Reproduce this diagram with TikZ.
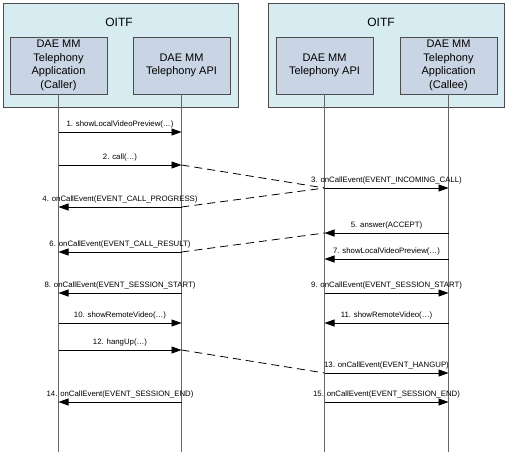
\documentclass[tikz,border=0pt]{standalone}
\usepackage{fontspec}
\setmainfont{Liberation Sans}
\usetikzlibrary{arrows.meta,positioning}
\definecolor{oitfFill}{RGB}{214,236,240}
\definecolor{compFill}{RGB}{201,213,229}
\tikzset{
oitfBox/.style={draw=black!70, fill=oitfFill, line width=0.8pt, inner sep=0pt},
compBox/.style={draw=black!70, fill=compFill, line width=0.8pt, inner sep=0pt,
    minimum width=97pt, minimum height=57pt, align=center,
    font=\fontsize{11}{13.5}\selectfont},
lifeLine/.style={draw=black!60, line width=1.5pt},
msgArrow/.style={-{Triangle[length=10pt,width=7pt]}, line width=0.8pt},
netLink/.style={line width=0.8pt, dash pattern=on 8pt off 5pt},
msgLabel/.style={midway, above=3pt, inner sep=0pt, font=\fontsize{7.8}{8}\selectfont}
}

\begin{document}
\begin{tikzpicture}[x=1pt,y=-1pt]
    \useasboundingbox (0,0) rectangle (507,456);
    % the two terminals
    \node[oitfBox, minimum width=235pt, minimum height=104pt] (oitfL) at (120.5,55) {};
    \node[oitfBox, minimum width=236pt, minimum height=104pt] (oitfR) at (386,55) {};
    \node[font=\fontsize{12}{14}\selectfont] (titleL) at (119,22) {OITF};
    \node[font=\fontsize{12}{14}\selectfont] (titleR) at (381,22) {OITF};
    \node[compBox] (caller) at (58.5,65.5) {DAE MM\\Telephony\\Application\\(Caller)};
    \node[compBox] (apiL) at (181.5,65.5) {DAE MM\\Telephony API};
    \node[compBox] (apiR) at (324.5,65.5) {DAE MM\\Telephony API};
    \node[compBox] (callee) at (448.5,65.5) {DAE MM\\Telephony\\Application\\(Callee)};
    % lifelines
    \foreach \n in {caller,apiL,apiR,callee}
        \draw[lifeLine] (\n.south) -- (\n |- 0,452);
    % messages
    \foreach \y/\a/\b/\txt in {
        132/caller/apiL/{1. showLocalVideoPreview(\dots)},
        165/caller/apiL/{2. call(\dots)},
        188/apiR/callee/{3. onCallEvent(EVENT\_INCOMING\_CALL)},
        207/apiL/caller/{4. onCallEvent(EVENT\_CALL\_PROGRESS)},
        233/callee/apiR/{5. answer(ACCEPT)},
        252/apiL/caller/{6. onCallEvent(EVENT\_CALL\_RESULT)},
        259/callee/apiR/{7. showLocalVideoPreview(\dots)},
        293/apiL/caller/{8. onCallEvent(EVENT\_SESSION\_START)},
        293/apiR/callee/{9. onCallEvent(EVENT\_SESSION\_START)},
        323/caller/apiL/{10. showRemoteVideo(\dots)},
        323/callee/apiR/{11. showRemoteVideo(\dots)},
        350/caller/apiL/{12. hangUp(\dots)},
        373/apiR/callee/{13. onCallEvent(EVENT\_HANGUP)},
        402/apiL/caller/{14. onCallEvent(EVENT\_SESSION\_END)},
        402/apiR/callee/{15. onCallEvent(EVENT\_SESSION\_END)}}
        \draw[msgArrow] (\a |- 0,\y) -- node[msgLabel]{\txt} (\b |- 0,\y);
    % network links
    \draw[netLink] (apiL |- 0,165) -- (apiR |- 0,188);
    \draw[netLink] (apiL |- 0,207) -- (apiR |- 0,188);
    \draw[netLink] (apiL |- 0,252) -- (apiR |- 0,233);
    \draw[netLink] (apiL |- 0,350) -- (apiR |- 0,373);
\end{tikzpicture}
\end{document}
